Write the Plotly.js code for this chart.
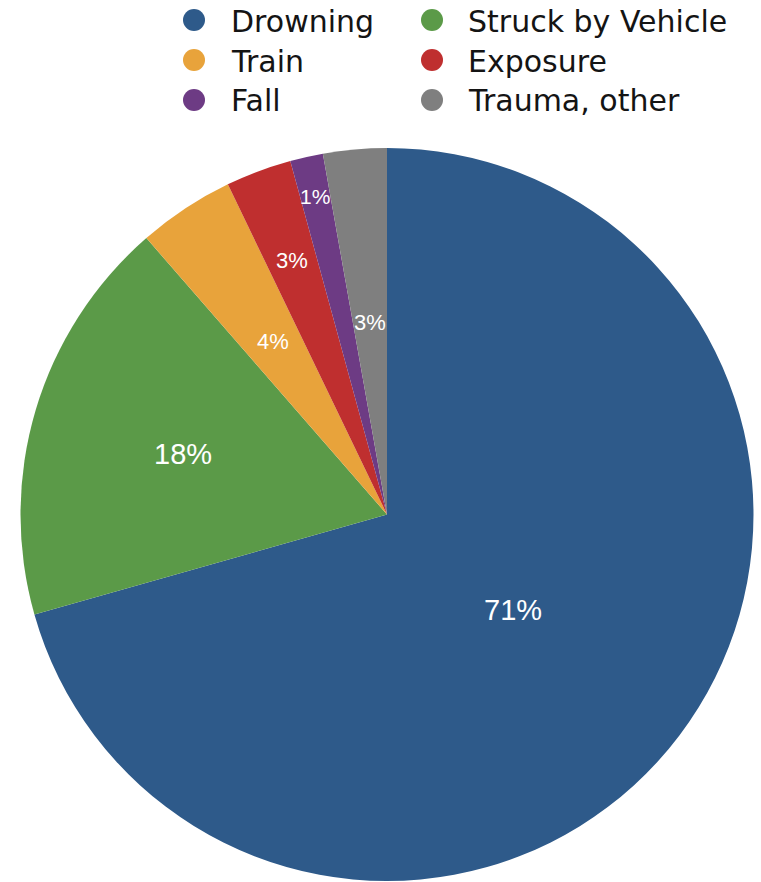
<!DOCTYPE html>
<html>
<head>
<meta charset="utf-8">
<script src="https://cdn.plot.ly/plotly-3.0.1.min.js"></script>
<style>html,body{margin:0;padding:0;background:#fff;}#chart{width:761px;height:882px;}</style>
</head>
<body>
<div id="chart"></div>
<script>
// ---- data ----
var categories = ["Drowning", "Struck by Vehicle", "Train", "Exposure", "Fall", "Trauma, other"];
var shares = [70.6, 18.0, 4.25, 2.9, 1.45, 2.8];
var colors = ["#2E5A8A", "#5B9A48", "#E8A33B", "#BF2F2F", "#6D3B84", "#7F7F7F"];

// ---- style / placement ----
var W = 761, H = 882;
var domainX = [20 / W, 754 / W];
var domainY = [1 / H, 734 / H];
var labelRadius = [0.43, 0.58, 0.565, 0.74, 0.89, 0.525];
var labelSize = [29, 29, 22, 22, 21, 22];
var legendCols = [{cx: 194, tx: 229}, {cx: 432, tx: 466}];
var legendRows = [20, 60, 100];

var total = shares.reduce(function (a, b) { return a + b; }, 0);
var cxPx = (domainX[0] + domainX[1]) / 2 * W;
var cyPx = H - (domainY[0] + domainY[1]) / 2 * H;
var R = Math.min((domainX[1] - domainX[0]) * W, (domainY[1] - domainY[0]) * H) / 2;

var annotations = [];
var cum = 0;
shares.forEach(function (v, i) {
  var mid = (cum + v / 2) / total * 2 * Math.PI;
  cum += v;
  var r = labelRadius[i] * R;
  var px = cxPx + r * Math.sin(mid);
  var py = cyPx - r * Math.cos(mid);
  annotations.push({
    xref: "paper", yref: "paper", x: px / W, y: 1 - py / H,
    xanchor: "center", yanchor: "middle", showarrow: false,
    text: Math.round(v / total * 100) + "%",
    font: {family: "Liberation Sans, Arial, sans-serif", size: labelSize[i], color: "#ffffff"}
  });
});

var shapes = [];
categories.forEach(function (c, i) {
  var col = legendCols[i % 2];
  var row = legendRows[Math.floor(i / 2)];
  shapes.push({
    type: "circle", xref: "paper", yref: "paper",
    xsizemode: "pixel", ysizemode: "pixel",
    xanchor: col.cx / W, yanchor: 1 - row / H,
    x0: -11, x1: 11, y0: -11, y1: 11,
    fillcolor: colors[i], line: {width: 0}
  });
  annotations.push({
    xref: "paper", yref: "paper", x: col.tx / W, y: 1 - (row + 1) / H,
    xanchor: "left", yanchor: "middle", showarrow: false,
    text: c,
    font: {family: "DejaVu Sans, sans-serif", size: 30, color: "#141414"}
  });
});

var trace = {
  type: "pie",
  labels: categories,
  values: shares,
  sort: false,
  direction: "clockwise",
  rotation: 0,
  textinfo: "none",
  hoverinfo: "label+percent",
  marker: {colors: colors, line: {width: 0}},
  domain: {x: domainX, y: domainY},
  showlegend: false
};

var layout = {
  width: W, height: H,
  margin: {l: 0, r: 0, t: 0, b: 0},
  paper_bgcolor: "#ffffff",
  showlegend: false,
  annotations: annotations,
  shapes: shapes
};

Plotly.newPlot("chart", [trace], layout, {displayModeBar: false, staticPlot: true});
</script>
</body>
</html>
